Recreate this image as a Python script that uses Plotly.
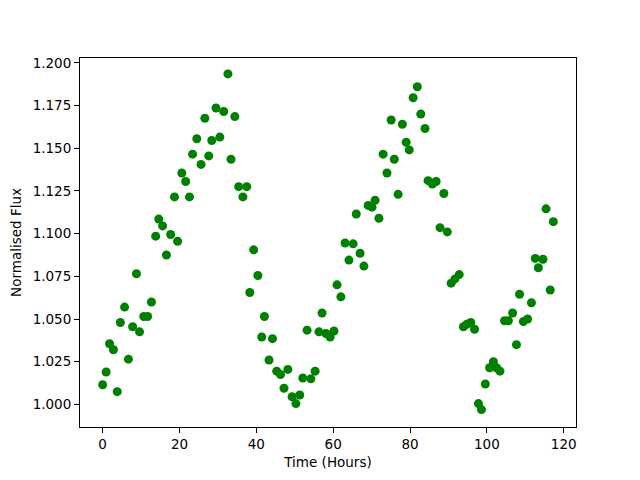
import plotly.graph_objects as go

time_hours = [
    0.0, 0.9, 1.8, 2.8, 3.8, 4.6, 5.7, 6.7, 7.8, 8.8, 9.6, 10.7, 11.7, 12.7, 13.8, 14.6,
    15.6, 16.6, 17.7, 18.7, 19.5, 20.6, 21.6, 22.6, 23.4, 24.5, 25.6, 26.6, 27.6, 28.4,
    29.5, 30.5, 31.5, 32.6, 33.4, 34.4, 35.4, 36.5, 37.5, 38.3, 39.3, 40.4, 41.4, 42.1,
    43.3, 44.2, 45.3, 46.3, 47.2, 48.2, 49.3, 50.3, 51.3, 52.1, 53.2, 54.2, 55.3, 56.3,
    57.1, 58.1, 59.2, 60.2, 61.0, 62.0, 63.1, 64.1, 65.2, 66.0, 67.0, 68.0, 69.1, 70.1,
    70.9, 71.9, 73.0, 74.0, 75.1, 75.9, 76.9, 78.0, 79.0, 79.8, 80.8, 81.9, 82.8, 83.9,
    84.7, 85.8, 86.8, 87.8, 88.8, 89.7, 90.7, 91.7, 92.8, 93.9, 94.8, 95.8, 96.8, 97.8,
    98.6, 99.6, 100.7, 101.7, 102.5, 103.4, 104.6, 105.6, 106.7, 107.7, 108.5, 109.5,
    110.6, 111.6, 112.6, 113.4, 114.6, 115.4, 116.5, 117.3,
]

normalised_flux = [
    1.0115, 1.0190, 1.0355, 1.0320, 1.0075, 1.0480, 1.0570, 1.0265, 1.0455, 1.0765,
    1.0425, 1.0515, 1.0515, 1.0600, 1.0985, 1.1085, 1.1045, 1.0875, 1.0995, 1.1215,
    1.0955, 1.1355, 1.1305, 1.1215, 1.1465, 1.1555, 1.1405, 1.1675, 1.1455, 1.1545,
    1.1735, 1.1565, 1.1715, 1.1935, 1.1435, 1.1685, 1.1275, 1.1215, 1.1275, 1.0655,
    1.0905, 1.0755, 1.0395, 1.0515, 1.0260, 1.0385, 1.0195, 1.0175, 1.0095, 1.0205,
    1.0045, 1.0005, 1.0055, 1.0155, 1.0435, 1.0150, 1.0195, 1.0425, 1.0535, 1.0415,
    1.0395, 1.0430, 1.0700, 1.0630, 1.0945, 1.0845, 1.0940, 1.1115, 1.0885, 1.0810,
    1.1165, 1.1155, 1.1195, 1.1090, 1.1465, 1.1355, 1.1665, 1.1435, 1.1230, 1.1640,
    1.1535, 1.1490, 1.1795, 1.1860, 1.1700, 1.1615, 1.1310, 1.1290, 1.1305, 1.1035,
    1.1235, 1.1010, 1.0710, 1.0735, 1.0760, 1.0455, 1.0470, 1.0480, 1.0440, 1.0005,
    0.9970, 1.0120, 1.0215, 1.0250, 1.0215, 1.0195, 1.0490, 1.0490, 1.0535, 1.0350,
    1.0645, 1.0485, 1.0500, 1.0595, 1.0855, 1.0800, 1.0850, 1.1145, 1.0670, 1.1070,
]

x_ticks = [0, 20, 40, 60, 80, 100, 120]
y_ticks = [1.000, 1.025, 1.050, 1.075, 1.100, 1.125, 1.150, 1.175, 1.200]

fig = go.Figure(
    go.Scatter(
        x=time_hours,
        y=normalised_flux,
        mode="markers",
        marker=dict(color="#008000", size=9, line=dict(width=0)),
    )
)

font = dict(family="DejaVu Sans", size=13.5, color="black")
axis_common = dict(
    showline=True, linecolor="black", linewidth=1, mirror=True,
    ticks="outside", ticklen=5, tickcolor="black", tickwidth=1,
    showgrid=False, zeroline=False, tickfont=font, automargin=False,
)

fig.update_layout(
    width=640, height=480,
    margin=dict(l=72, r=72, t=50, b=61),
    paper_bgcolor="white", plot_bgcolor="white",
    showlegend=False, font=font,
    xaxis=dict(
        range=[-5.9, 123.2], tickvals=x_ticks, ticktext=[str(v) for v in x_ticks],
        title=dict(text="Time (Hours)", font=font, standoff=6), **axis_common,
    ),
    yaxis=dict(
        range=[0.9868, 1.2028], tickvals=y_ticks, ticktext=[f"{v:.3f}" for v in y_ticks],
        title=dict(text="Normalised Flux", font=font, standoff=8), **axis_common,
    ),
)

fig.write_html("out.html")
